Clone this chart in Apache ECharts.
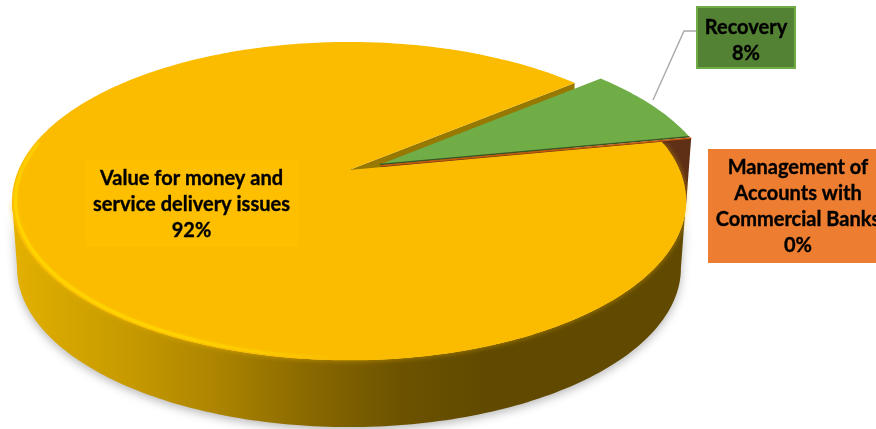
<!DOCTYPE html>
<html>
<head>
<meta charset="utf-8">
<style>html,body{margin:0;padding:0;background:#fff}#chart{width:876px;height:429px}</style>
<script src="https://cdn.jsdelivr.net/npm/echarts@6/dist/echarts.min.js"></script>
</head>
<body>
<div id="chart"></div>
<script>
// Audit issues by type
const categories = ['Value for money and\nservice delivery issues', 'Recovery', 'Management of\nAccounts with\nCommercial Banks'];
const shares = [92, 8, 0];

const topColors = ['#FBBC00', '#70AD47', '#C55A11'];
const firstSliceAngle = 11;       // degrees, counter-clockwise from 3 o'clock
const pullOut = [[0, 0], [0.094, -0.036], [0.098, -0.028]];

// Perspective tilted disc: unit-disc point -> screen, level 0 is the top face, level 1 the base
const DISC = { cx: 349, cy: 170, a: 330.5, b: 153, p: 0.195, depth: 67, baseScale: 0.985 };
function project(X, Y, level) {
  const w = 1 - DISC.p * Y;
  const k = level ? DISC.baseScale : 1;
  return [DISC.cx + DISC.a * k * X / w, DISC.cy + level * DISC.depth + DISC.b * Y / w];
}
function rimPoint(deg, off, level, radius) {
  const r = deg * Math.PI / 180;
  const s = radius || 1;
  return project(s * Math.cos(r) + off[0], -s * Math.sin(r) + off[1], level);
}
function arc(from, to, off, level, radius) {
  const pts = [];
  const n = Math.max(2, Math.ceil(Math.abs(to - from)));
  for (let i = 0; i <= n; i++) pts.push(rimPoint(from + (to - from) * i / n, off, level, radius));
  return pts;
}
// Slices run clockwise from the start angle; returns [startDeg, endDeg]
function sliceSpan(i) {
  const total = shares.reduce((s, v) => s + v, 0);
  const before = shares.slice(0, i).reduce((s, v) => s + v, 0);
  return [firstSliceAngle - before / total * 360, firstSliceAngle - (before + shares[i]) / total * 360];
}
function percent(v) {
  return Math.round(v / shares.reduce((s, x) => s + x, 0) * 100) + '%';
}

const FONT = 'bold 20px Lato, "Open Sans", sans-serif';
const rightExtreme = -Math.asin(DISC.p) * 180 / Math.PI;
const leftExtreme = -180 + Math.asin(DISC.p) * 180 / Math.PI;

function renderWalls(params, api) {
  const i = params.dataIndex;
  const [start, end] = sliceSpan(i);
  const off = pullOut[i];
  const centreTop = project(off[0], off[1], 0);
  const centreBase = project(off[0], off[1], 1);
  const children = [];
  if (i === 0) {
    const front = arc(rightExtreme, leftExtreme, off, 0).concat(arc(leftExtreme, rightExtreme, off, 1));
    children.push({
      type: 'polygon', shape: { points: front },
      style: {
        fill: new echarts.graphic.LinearGradient(0, 0, 1, 0, [
          { offset: 0, color: '#E4B100' }, { offset: 0.06, color: '#D8A800' },
          { offset: 0.18, color: '#C59900' }, { offset: 0.3, color: '#AD8500' },
          { offset: 0.45, color: '#876700' }, { offset: 0.58, color: '#6C5200' },
          { offset: 0.7, color: '#614A00' }, { offset: 1, color: '#614A00' }
        ]),
        shadowBlur: 10, shadowColor: 'rgba(0,0,0,0.28)', shadowOffsetY: 3
      }
    });
    // cut face exposed where the Recovery slice is pulled away
    const cutEnd = end + 360;
    children.push({
      type: 'polygon',
      shape: { points: [centreTop, rimPoint(cutEnd, off, 0), rimPoint(cutEnd, off, 1), centreBase] },
      style: { fill: '#977800' }
    });
  }
  if (i === 2) {
    children.push({
      type: 'polygon',
      shape: { points: [centreTop, rimPoint(start, off, 0), rimPoint(end, off, 1), centreBase] },
      style: { fill: '#5F3016' }
    });
  }
  return { type: 'group', children };
}

function renderTops(params, api) {
  const i = params.dataIndex;
  const [start, end] = sliceSpan(i);
  const off = pullOut[i];
  const centre = project(off[0], off[1], 0);
  const children = [];
  if (i === 0) {
    children.push({
      type: 'polygon',
      shape: { points: [centre].concat(arc(start, end, off, 0)) },
      style: { fill: topColors[0] }
    });
    // soft bevel around the front of the rim
    children.push({
      type: 'polyline',
      shape: { points: arc(start - 1, leftExtreme, off, 0, 0.998) },
      style: { stroke: topColors[0], lineWidth: 1.5, fill: 'none', shadowBlur: 5, shadowColor: '#FBBC00' }
    });
    // bright highlight along the lower-left edge
    children.push({
      type: 'polyline',
      shape: { points: arc(-92, leftExtreme - 22, off, 0, 0.99) },
      style: {
        fill: 'none', lineWidth: 3, shadowBlur: 3, shadowColor: '#FFCE00',
        stroke: new echarts.graphic.LinearGradient(1, 1, 0, 0, [
          { offset: 0, color: 'rgba(255,208,0,0)' }, { offset: 0.35, color: '#FFD200' },
          { offset: 0.9, color: '#FFD400' }, { offset: 1, color: 'rgba(255,212,0,0)' }
        ])
      }
    });
  } else if (i === 1) {
    children.push({
      type: 'polygon',
      shape: { points: [centre].concat(arc(start, end, off, 0)) },
      style: { fill: topColors[1] }
    });
    children.push({
      type: 'line',
      shape: { x1: centre[0], y1: centre[1], x2: rimPoint(end, off, 0)[0], y2: rimPoint(end, off, 0)[1] },
      style: { stroke: '#375623', lineWidth: 1.4 }
    });
  } else {
    const tip = rimPoint(start, off, 0);
    children.push({
      type: 'line',
      shape: { x1: centre[0], y1: centre[1], x2: tip[0], y2: tip[1] },
      style: { stroke: topColors[2], lineWidth: 1.5 }
    });
  }
  return { type: 'group', children };
}

const LABEL_BOXES = [
  { x: 85, y: 160, w: 214, h: 87, fill: '#FEBF00', cx: 191.5, cy: 205, stroke: null },
  { x: 697, y: 7, w: 98, h: 61, fill: '#548235', cx: 746, cy: 40.5, stroke: '#70AD47' },
  { x: 708, y: 149, w: 170, h: 114, fill: '#ED7D31', cx: 798, cy: 207, stroke: null }
];

function renderLabels(params, api) {
  const i = params.dataIndex;
  const box = LABEL_BOXES[i];
  const children = [];
  if (i === 1) {
    children.push({
      type: 'polyline',
      shape: { points: [[697, 31], [684, 31], [653, 100]] },
      style: { stroke: '#A9A9A9', lineWidth: 1.4, fill: 'none' }
    });
  }
  children.push({
    type: 'rect',
    shape: { x: box.x, y: box.y, width: box.w, height: box.h },
    style: { fill: box.fill, stroke: box.stroke, lineWidth: box.stroke ? 2 : 0 }
  });
  children.push({
    type: 'text',
    style: {
      x: box.cx, y: box.cy, text: categories[i] + '\n' + percent(api.value(1)),
      fill: '#000', stroke: '#000', lineWidth: 0.35, font: FONT, lineHeight: 26, align: 'center', verticalAlign: 'middle'
    }
  });
  return { type: 'group', children };
}

const rows = shares.map((v, i) => [i, v]);
const chart = echarts.init(document.getElementById('chart'), null, { renderer: 'canvas' });
chart.setOption({
  backgroundColor: '#fff',
  animation: false,
  series: [
    { type: 'custom', coordinateSystem: 'none', z: 1, data: rows, renderItem: renderWalls, silent: true },
    { type: 'custom', coordinateSystem: 'none', z: 2, data: rows, renderItem: renderTops, silent: true },
    { type: 'custom', coordinateSystem: 'none', z: 3, data: rows, renderItem: renderLabels, silent: true }
  ]
});
</script>
</body>
</html>
